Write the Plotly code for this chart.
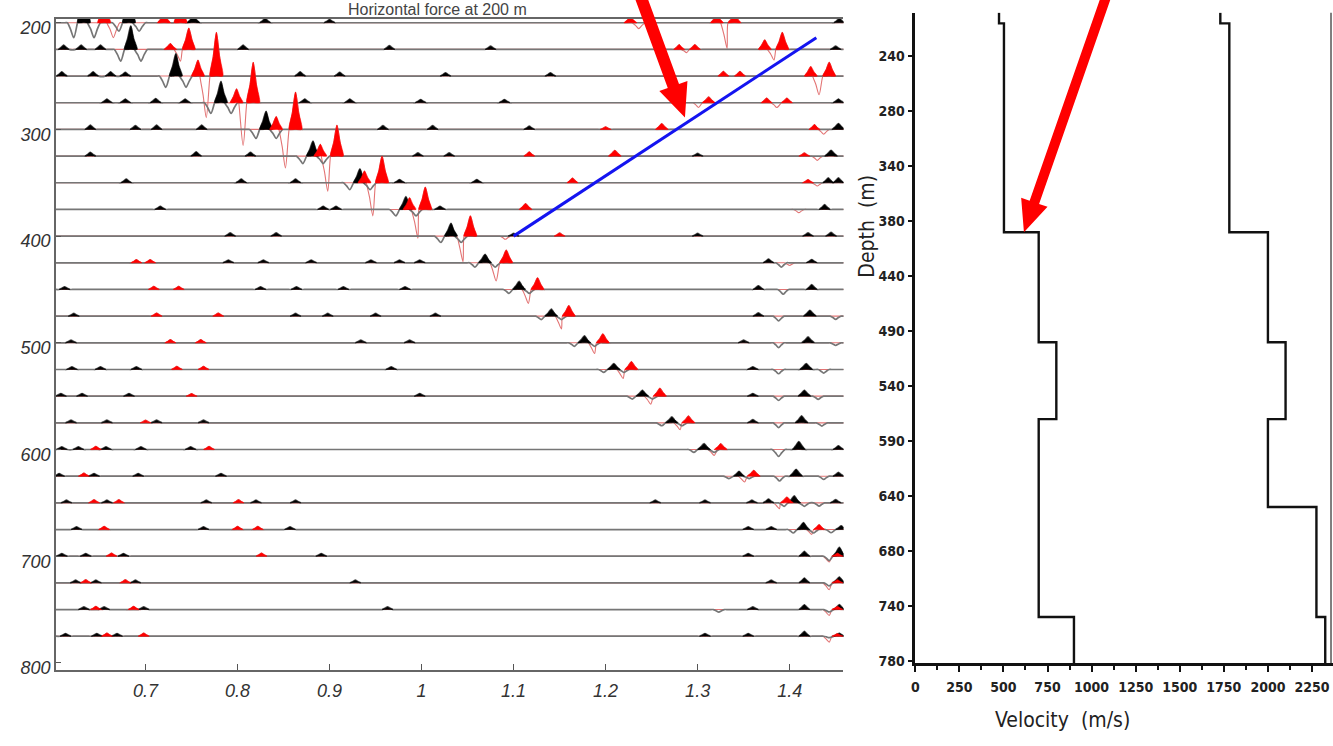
import math
import plotly.graph_objects as go

# ---------------- data ----------------
DEPTHS = [200, 225, 250, 275, 300, 325, 350, 375, 400, 425, 450, 475,
          500, 525, 550, 575, 600, 625, 650, 675, 700, 725, 750, 775]

# direct arrival, black component (peak time s, amplitude m)
DIRECT_BLACK_T = [0.633, 0.684, 0.733, 0.782, 0.831, 0.882, 0.933, 0.983, 1.032, 1.069, 1.106, 1.141,
                  1.177, 1.209, 1.240, 1.272, 1.307, 1.345, 1.405, 1.415, 1.454, 1.454, 1.454, 1.454]
DIRECT_BLACK_A = [28, 22, 21, 20, 17, 14, 13, 12, 12, 8, 7.5, 6.5,
                  6.5, 5.5, 5.5, 5.5, 5.5, 4.6, 6.5, 6.5, 8.3, 5.5, 4.6, 2.8]
# direct arrival, red component: trough and main peak
DIRECT_TROUGH_T = [0.665, 0.738, 0.766, 0.806, 0.852, 0.898, 0.947, 0.996, 1.045, 1.081, 1.116, 1.152,
                   1.188, 1.219, 1.249, 1.281, 1.318, 1.351, 1.389, 1.424, 1.443, 1.443, 1.443, 1.443]
DIRECT_TROUGH_A = [-14, -11, -39, -40, -36, -33, -31, -27, -24, -17, -13, -12,
                   -10, -8.5, -7.5, -6.5, -5.5, -5.5, -5.5, -4.6, -5.5, -6.5, -5.5, -5.5]
DIRECT_RED_T = [0.655, 0.747, 0.777, 0.817, 0.863, 0.908, 0.957, 1.004, 1.053, 1.092, 1.126, 1.160,
                1.197, 1.228, 1.259, 1.290, 1.325, 1.361, 1.397, 1.432, 1.452, 1.452, 1.452, 1.452]
DIRECT_RED_A = [19, 20, 41, 38, 35, 29, 25, 21, 19, 12, 11, 10,
                8.5, 7.5, 7.5, 6.5, 5.5, 5.5, 5.5, 4.6, 3, 3, 3, 2.5]

# black wavelet (relative time, relative amplitude)
BLACK_WAVELET_DT = [-0.011, 0.0, 0.011]
BLACK_WAVELET_W = [-0.5, 1.0, -0.5]

# other events on each trace [time s, amplitude m]
EXTRA_BLACK = [
    [[0.682, 25], [0.671, -8], [0.693, -8], [0.752, 6], [0.83, 4], [0.90, 3], [1.454, 4]],
    [[0.611, 4], [0.630, 4], [0.651, 4], [0.806, 4], [0.965, 3.5], [1.075, 3], [1.45, 3]],
    [[0.609, 4], [0.643, 4], [0.662, 4], [0.678, 3.5], [0.868, 4], [0.911, 3.5], [1.026, 3], [1.14, 3]],
    [[0.658, 3.5], [0.678, 3.5], [0.711, 4], [0.743, 3.5], [0.873, 3.5], [0.922, 3.5], [0.999, 3], [1.09, 3], [1.453, 3.5]],
    [[0.640, 4], [0.689, 3.5], [0.712, 4], [0.761, 4], [0.958, 3.5], [1.012, 3.5], [1.117, 3], [1.453, 5.5]],
    [[0.640, 3.5], [0.755, 4], [0.814, 3.5], [0.996, 3], [1.030, 3], [1.30, 2.5], [1.445, 5.5]],
    [[0.679, 3.5], [0.804, 3.5], [0.863, 3.5], [0.976, 3], [1.06, 3], [1.442, 4.5], [1.453, 4.5]],
    [[0.716, 3], [0.893, 3], [0.907, 3], [1.02, 3], [1.438, 4.5]],
    [[0.792, 3], [0.842, 3], [1.10, 2.5], [1.30, 2.5], [1.420, 3], [1.445, 3.5]],
    [[0.790, 2.5], [0.828, 2.5], [0.880, 2.5], [0.945, 2.5], [0.976, 2.5], [0.998, 2.5], [1.377, 3.5], [1.391, -4], [1.424, 3]],
    [[0.612, 2.5], [0.825, 2.5], [0.864, 2.5], [0.915, 2.5], [0.982, 2.5], [1.366, 3.5], [1.393, -4.5], [1.424, 4.5]],
    [[0.622, 2.5], [0.863, 2.5], [0.898, 2.5], [0.950, 2.5], [1.015, 2.5], [1.366, 3], [1.388, -4.5], [1.422, 5.5], [1.45, -3]],
    [[0.619, 2.5], [0.934, 2.5], [0.987, 2.5], [1.35, 2.5], [1.388, -4.5], [1.420, 5.5], [1.45, -2.5]],
    [[0.620, 2.5], [0.651, 2.5], [0.690, 2.5], [0.967, 2.5], [1.36, 2.5], [1.388, -4], [1.418, 5.5], [1.437, -3.5]],
    [[0.608, 2.5], [0.631, 2.5], [0.682, 2.5], [0.998, 2.5], [1.36, 2.5], [1.388, -4], [1.416, 5.5], [1.431, -3]],
    [[0.619, 2.5], [0.658, 2.5], [0.712, 2.5], [0.763, 2.5], [1.36, 3], [1.388, -4.5], [1.413, 6.5], [1.435, -3]],
    [[0.609, 2.5], [0.627, 2.5], [0.657, 2.5], [0.695, 2.5], [0.749, 2.5], [1.388, -6.5], [1.410, 7.5], [1.453, 3.5]],
    [[0.606, 2.5], [0.644, 2.5], [0.692, 2.5], [0.782, 2.5], [1.389, -4.5], [1.407, 6.5], [1.437, -3], [1.453, 3.5]],
    [[0.614, 2.5], [0.658, 2.5], [0.766, 2.5], [0.820, 2.5], [0.863, 2.5], [1.254, 2.5], [1.308, 2.5], [1.359, 2.5], [1.377, 3.5], [1.432, -3], [1.45, 3]],
    [[0.625, 2.5], [0.763, 2.5], [0.857, 2.5], [1.355, 2.5], [1.38, 2.5], [1.445, -3], [1.456, 3.5]],
    [[0.609, 2.5], [0.635, 2.5], [0.676, 2.5], [0.891, 2.5], [1.355, 2.5], [1.416, 4.5]],
    [[0.624, 2.5], [0.646, 2.5], [0.689, 2.5], [0.928, 2.5], [1.38, 2.5], [1.416, 4.5]],
    [[0.633, 2.5], [0.655, 2.5], [0.698, 2.5], [0.963, 2.5], [1.323, -2.5], [1.36, 2.5], [1.416, 4.5]],
    [[0.613, 2.5], [0.647, 2.5], [0.669, 2.5], [1.308, 2.5], [1.355, 2.5], [1.416, 4.5]],
]
EXTRA_RED = [
    [[0.72, 8], [0.738, 19], [1.227, 5.5], [1.236, -5.5], [1.321, 7.5], [1.332, -24], [1.340, 7.5]],
    [[0.727, 5.5], [1.280, 4.5], [1.288, -3], [1.297, 4.5], [1.373, 9], [1.383, -10], [1.392, 16]],
    [[0.757, 15], [1.328, 4.5], [1.346, 4.5], [1.423, 9], [1.432, -17.5], [1.443, 13]],
    [[0.799, 13], [1.301, -4.5], [1.312, 5.5], [1.375, 4.5], [1.386, -4.5], [1.397, 4.5]],
    [[0.842, 12], [1.20, 2.5], [1.261, 5.5], [1.427, 4.5], [1.437, -4.5]],
    [[0.890, 11], [1.117, 4], [1.210, 5.5], [1.416, 3], [1.430, -4]],
    [[0.938, 11], [1.164, 4.5], [1.42, 3], [1.43, -3]],
    [[0.987, 11], [1.113, 5.5], [1.41, -3]],
    [[1.091, -3], [1.15, 3]],
    [[0.690, 3], [0.705, 3], [1.40, -2.5]],
    [[0.709, 3], [0.736, 3]],
    [[0.712, 3], [0.779, 3]],
    [[0.727, 3], [0.760, 3]],
    [[0.734, 3], [0.763, 3]],
    [[0.75, 2.5]],
    [[0.70, 2.5]],
    [[0.646, 3], [0.769, 3]],
    [[0.633, 3]],
    [[0.644, 3], [0.671, 3], [0.801, 3]],
    [[0.655, 3], [0.800, 3], [0.822, 3]],
    [[0.663, 3], [0.826, 3]],
    [[0.635, 3], [0.678, 3]],
    [[0.646, 3], [0.687, 3]],
    [[0.658, 3], [0.698, 3]],
]

# blue line marking the upgoing event
BLUE_T = [1.100, 1.429]
BLUE_DEPTH = [400, 214]

# velocity model
LAYER_BOUNDS = [200, 210, 400, 500, 570, 650, 750, 792]
VS = [475, 503, 700, 800, 700, 700, 900]
VP = [1730, 1781, 2000, 2100, 2000, 2275, 2325]
DEPTH_TICKS = [240, 290, 340, 390, 440, 490, 540, 590, 640, 690, 740, 790]
DEPTH_TICK_TEXT = ["240", "280", "340", "380", "440", "490", "540", "590", "640", "680", "740", "780"]
TIME_TICKS = [0.7, 0.8, 0.9, 1.0, 1.1, 1.2, 1.3, 1.4]
TIME_TICK_TEXT = ["0.7", "0.8", "0.9", "1", "1.1", "1.2", "1.3", "1.4"]
VEL_TICKS = [0, 250, 500, 750, 1000, 1250, 1500, 1750, 2000, 2250]

# ---------------- layout constants ----------------
W, H = 1333, 746
X0, X1 = 0.6025, 1.4585
Y_TOP, Y_BOT = 196.3, 806.5
W_MAIN, W_SMALL = 0.007, 0.006
SH_X, SH_Y = 0.5, 0.45
PAD = 0.0025


def half(a):
    return W_MAIN if abs(a) >= 5 else W_SMALL


def build_line(events, depth):
    ev = sorted(events)
    xs, ys = [X0], [depth]
    for i, (t, a) in enumerate(ev):
        w = half(a)
        if t - w > xs[-1] + 1e-4:
            xs += [t - w, t - SH_X * w]
            ys += [depth, depth - SH_Y * a]
        xs.append(t)
        ys.append(depth - a)
        if i + 1 < len(ev):
            lim = ev[i + 1][0] - half(ev[i + 1][1])
        else:
            lim = X1 + 0.02
        if t + w < lim:
            xs += [t + SH_X * w, t + w]
            ys += [depth - SH_Y * a, depth]
    if xs[-1] < X1:
        xs.append(X1 + 0.01)
        ys.append(depth)
    # keep long baseline stretches straight under spline smoothing
    ox, oy = [xs[0]], [ys[0]]
    for j in range(1, len(xs)):
        if ys[j] == depth and oy[-1] == depth and xs[j] - ox[-1] > 3 * PAD:
            ox += [ox[-1] + PAD, xs[j] - PAD]
            oy += [depth, depth]
        ox.append(xs[j])
        oy.append(ys[j])
    return ox, oy


def build_fill(events, depth):
    xs, ys = [], []
    for t, a in events:
        if a <= 0:
            continue
        w = half(a)
        xs += [t - w, t - SH_X * w, t, t + SH_X * w, t + w, t, t - w, None]
        ys += [depth, depth - SH_Y * a, depth - a, depth - SH_Y * a, depth, depth, depth, None]
    return xs, ys


black_ev, red_ev = [], []
for k, d in enumerate(DEPTHS):
    be = [[DIRECT_BLACK_T[k] + dt, DIRECT_BLACK_A[k] * wgt] for dt, wgt in zip(BLACK_WAVELET_DT, BLACK_WAVELET_W)]
    be += EXTRA_BLACK[k]
    re = [[DIRECT_TROUGH_T[k], DIRECT_TROUGH_A[k]], [DIRECT_RED_T[k], DIRECT_RED_A[k]]] + EXTRA_RED[k]
    black_ev.append(be)
    red_ev.append(re)

bl_x, bl_y, rl_x, rl_y = [], [], [], []
bf_x, bf_y, rf_x, rf_y = [], [], [], []
for k, d in enumerate(DEPTHS):
    x, y = build_line(black_ev[k], d); bl_x += x + [None]; bl_y += y + [None]
    x, y = build_line(red_ev[k], d); rl_x += x + [None]; rl_y += y + [None]
    x, y = build_fill(black_ev[k], d); bf_x += x; bf_y += y
    x, y = build_fill(red_ev[k], d); rf_x += x; rf_y += y

fig = go.Figure()
fig.add_trace(go.Scatter(x=rl_x, y=rl_y, mode="lines", line=dict(color="#e37474", width=1.1, shape="spline", smoothing=0.8),
                         xaxis="x", yaxis="y", hoverinfo="skip"))
fig.add_trace(go.Scatter(x=bl_x, y=bl_y, mode="lines", line=dict(color="#767676", width=1.7, shape="spline", smoothing=0.8),
                         xaxis="x", yaxis="y", hoverinfo="skip"))
fig.add_trace(go.Scatter(x=bf_x, y=bf_y, mode="lines", fill="toself", fillcolor="#000000",
                         line=dict(color="#000000", width=0.6, shape="spline", smoothing=0.6),
                         xaxis="x", yaxis="y", hoverinfo="skip"))
fig.add_trace(go.Scatter(x=rf_x, y=rf_y, mode="lines", fill="toself", fillcolor="#ff0000",
                         line=dict(color="#ff0000", width=0.6, shape="spline", smoothing=0.6),
                         xaxis="x", yaxis="y", hoverinfo="skip"))
fig.add_trace(go.Scatter(x=BLUE_T, y=BLUE_DEPTH, mode="lines", line=dict(color="#1414f0", width=3),
                         xaxis="x", yaxis="y", hoverinfo="skip"))


def steps(vals):
    xs, ys = [], []
    for i, v in enumerate(vals):
        xs += [v, v]
        ys += [LAYER_BOUNDS[i], LAYER_BOUNDS[i + 1]]
    return xs, ys


for vals in (VS, VP):
    sx, sy = steps(vals)
    fig.add_trace(go.Scatter(x=sx, y=sy, mode="lines", line=dict(color="#111111", width=2.4),
                             xaxis="x2", yaxis="y2", hoverinfo="skip"))


def px(x):
    return x / W


def py(y):
    return 1 - y / H


def arrow_path(tail, tip, sw, hw, hl):
    dx, dy = tip[0] - tail[0], tip[1] - tail[1]
    L = math.hypot(dx, dy)
    ux, uy = dx / L, dy / L
    nx, ny = -uy, ux
    bx, by = tip[0] - ux * hl, tip[1] - uy * hl
    pts = [
        (tail[0] + nx * sw / 2, tail[1] + ny * sw / 2),
        (bx + nx * sw / 2, by + ny * sw / 2),
        (bx + nx * hw / 2, by + ny * hw / 2),
        tip,
        (bx - nx * hw / 2, by - ny * hw / 2),
        (bx - nx * sw / 2, by - ny * sw / 2),
        (tail[0] - nx * sw / 2, tail[1] - ny * sw / 2),
    ]
    return "M " + " L ".join(f"{px(x):.5f},{py(y):.5f}" for x, y in pts) + " Z"


shapes = [
    dict(type="path", xref="paper", yref="paper", path=arrow_path((638, -6), (683, 118), 12, 30, 34),
         fillcolor="#ff0000", line=dict(width=0), layer="above"),
    dict(type="path", xref="paper", yref="paper", path=arrow_path((1106, -6), (1023, 234), 10, 28, 32),
         fillcolor="#ff0000", line=dict(width=0), layer="above"),
    dict(type="line", xref="paper", yref="paper", x0=px(1331), x1=px(1331), y0=py(12), y1=py(670),
         line=dict(color="#555555", width=1.5)),
]

italic = dict(family="Liberation Sans, Arial, sans-serif", size=18, color="#333333", style="italic")
narrow = dict(family="Liberation Sans Narrow, DejaVu Sans Condensed, Liberation Sans, sans-serif",
              size=14, color="#222222", weight="bold")
label_font = dict(family="Liberation Sans Narrow, DejaVu Sans Condensed, Liberation Sans, sans-serif",
                  size=21, color="#222222")

fig.update_layout(
    width=W, height=H, margin=dict(l=0, r=0, t=0, b=0),
    paper_bgcolor="white", plot_bgcolor="white", showlegend=False,
    xaxis=dict(domain=[px(52), px(842)], range=[X0, X1], tickvals=TIME_TICKS, ticktext=TIME_TICK_TEXT,
               ticks="inside", ticklen=6, tickcolor="#555", showline=True, linecolor="#666", linewidth=1.5,
               mirror=True, showgrid=False, zeroline=False, tickfont=italic, anchor="y", ticklabelstandoff=4),
    yaxis=dict(domain=[py(677), py(18)], range=[Y_BOT, Y_TOP], tickvals=[200, 300, 400, 500, 600, 700, 800],
               ticks="inside", ticklen=5, tickcolor="#555", showline=True, linecolor="#666", linewidth=1.5,
               showgrid=False, zeroline=False, tickfont=italic, anchor="x", ticklabelshift=-5),
    xaxis2=dict(domain=[px(914), 1.0], range=[0, 2369], tickvals=VEL_TICKS, ticks="outside", ticklen=6,
                tickwidth=1.5, tickcolor="#111", showline=True, linecolor="#111", linewidth=2.5,
                showgrid=False, zeroline=False, tickfont=narrow, anchor="y2", ticklabelstandoff=4,
                minor=dict(dtick=125, tick0=0, ticks="outside", ticklen=4, tickcolor="#111")),
    yaxis2=dict(domain=[py(670), py(12)], range=[791.8, 200.4], tickvals=DEPTH_TICKS, ticktext=DEPTH_TICK_TEXT,
                ticks="outside", ticklen=5, tickwidth=1.5, tickcolor="#111", showline=True, linecolor="#111",
                linewidth=2.5, showgrid=False, zeroline=False, tickfont=narrow, anchor="x2"),
    shapes=shapes,
    annotations=[
        dict(text="Horizontal force at 200 m", xref="paper", yref="paper", x=px(435), y=py(9),
             xanchor="center", yanchor="middle", showarrow=False,
             font=dict(family="Liberation Sans, Arial, sans-serif", size=16, color="#444444")),
        dict(text="Velocity  (m/s)", xref="paper", yref="paper", x=px(1062), y=py(728),
             xanchor="center", yanchor="middle", showarrow=False, font=label_font),
        dict(text="Depth  (m)", xref="paper", yref="paper", x=px(866), y=py(228), textangle=-90,
             xanchor="center", yanchor="middle", showarrow=False, font=label_font),
    ],
)

fig.write_html("out.html")
